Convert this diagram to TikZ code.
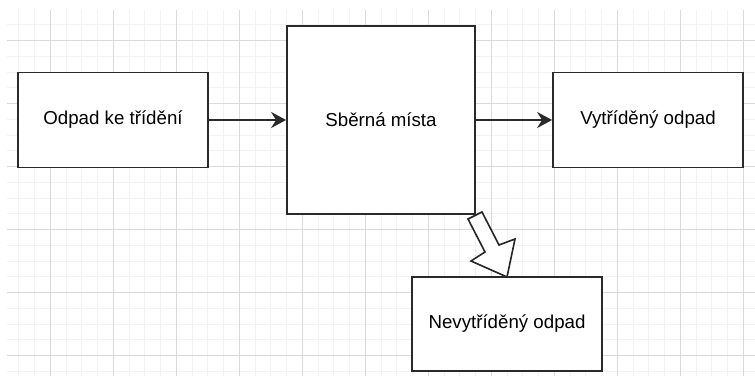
\documentclass[tikz,border=0pt]{standalone}
\usepackage{fontspec}
\setmainfont{Liberation Sans}
\usetikzlibrary{arrows.meta}
\definecolor{minorc}{HTML}{F2F2F2}
\definecolor{majorc}{HTML}{DADADA}
\definecolor{edgec}{HTML}{2A2A2A}
\begin{document}
\begin{tikzpicture}[x=1pt,y=-1pt,
  minorline/.style={draw=minorc,line width=1pt},
  majorline/.style={draw=majorc,line width=1pt},
  box/.style={draw=edgec,line width=1.8pt,fill=white,inner sep=0pt,
    font=\fontsize{18.7}{22}\selectfont,text=black},
  tipstyle/.tip={Stealth[length=15pt,width=16pt,inset=5pt]},
  conn/.style={draw=edgec,line width=2pt,-tipstyle},
  blockarrow/.style={draw=black!85,line width=1.6pt,fill=white,line join=miter}]
\useasboundingbox (0,0) rectangle (755,376);
\fill[white] (0,0) rectangle (755,376);
\begin{scope}
  \clip (7,10) rectangle (755,376);
  \foreach \i in {-3,...,45} \draw[minorline] ({50.3+15.75*\i},10) -- ++(0,366);
  \foreach \j in {-2,...,22} \draw[minorline] (7,{40.7+15.75*\j}) -- ++(748,0);
  \foreach \i in {0,...,11} \draw[majorline] ({50.3+63*\i},10) -- ++(0,366);
  \foreach \j in {0,...,5} \draw[majorline] (7,{40.7+63*\j}) -- ++(748,0);
\end{scope}
\node[box,minimum width=190pt,minimum height=95pt] (a) at (113,120) {Odpad ke třídění};
\node[box,minimum width=188pt,minimum height=188pt] (b) at (381,120) {Sběrná místa};
\node[box,minimum width=190pt,minimum height=95pt] (c) at (648,120) {Vytříděný odpad};
\node[box,minimum width=190pt,minimum height=94pt] (d) at (507,324) {Nevytříděný odpad};
\draw[conn] (a.east) -- (b.west);
\draw[conn] (b.east) -- (c.west);
\draw[blockarrow] (468,219) -- (482,212) -- (499,245) -- (515,239) -- (507,277) -- (471,261) -- (485,252) -- cycle;
\end{tikzpicture}
\end{document}
